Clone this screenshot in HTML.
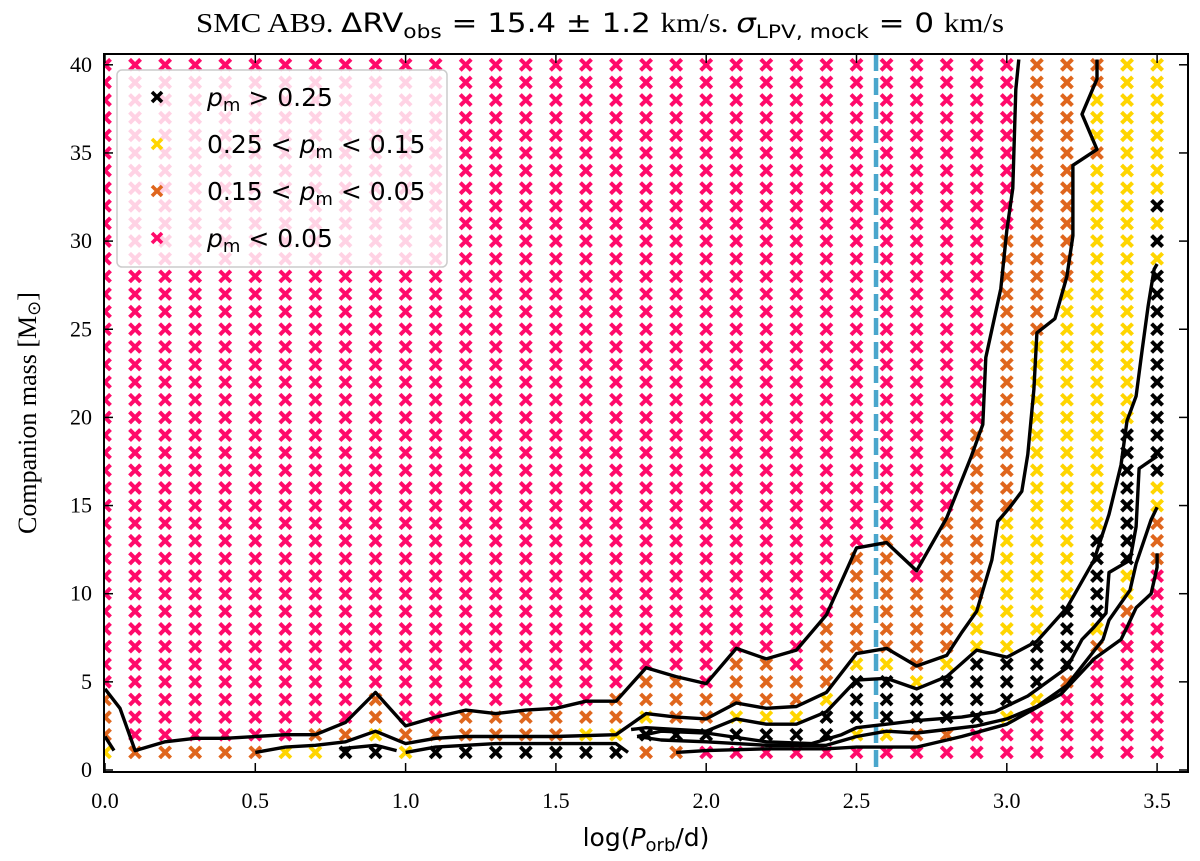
<!DOCTYPE html>
<html><head><meta charset="utf-8"><style>
html,body{margin:0;padding:0;background:#fff;}
svg{display:block;}
</style></head><body>
<svg id="chart" width="1200" height="861" viewBox="0 0 1200 861" xmlns="http://www.w3.org/2000/svg">
<defs><clipPath id="plotclip"><rect x="104" y="54" width="1084" height="718"/></clipPath></defs>
<text x="600" y="32" text-anchor="middle" font-size="27" textLength="808" lengthAdjust="spacingAndGlyphs" font-family="Liberation Serif, serif">SMC AB9. <tspan font-family="DejaVu Sans, sans-serif">ΔRV</tspan><tspan font-family="DejaVu Sans, sans-serif" font-size="19" dy="6">obs</tspan><tspan font-family="DejaVu Sans, sans-serif" dy="-6"> = 15.4 ± 1.2 </tspan>km/s. <tspan font-family="DejaVu Sans, sans-serif" font-style="italic">σ</tspan><tspan font-family="DejaVu Sans, sans-serif" font-size="19" dy="6">LPV, mock</tspan><tspan font-family="DejaVu Sans, sans-serif" dy="-6"> = 0 </tspan>km/s</text>
<g id="markers" clip-path="url(#plotclip)"></g>
<g id="lines" clip-path="url(#plotclip)"></g>
<g id="axes"></g>
<g id="legend"></g>
</svg>
<script>
const xCols = [0.0,0.1,0.2,0.3,0.4,0.5,0.6,0.7,0.8,0.9,1.0,1.1,1.2,1.3,1.4,1.5,1.6,1.7,1.8,1.9,2.0,2.1,2.2,2.3,2.4,2.5,2.6,2.7,2.8,2.9,3.0,3.1,3.2,3.3,3.4,3.5];
const massRows = [1,2,3,4,5,6,7,8,9,10,11,12,13,14,15,16,17,18,19,20,21,22,23,24,25,26,27,28,29,30,31,32,33,34,35,36,37,38,39,40];
// per column category codes, row 1 first: k=pm>0.25, y=0.25..0.15, o=0.15..0.05, p=<0.05
const colCats = [
"yooopppppppppppppppppppppppppppppppppppp",
"oppppppppppppppppppppppppppppppppppppppp",
"oppppppppppppppppppppppppppppppppppppppp",
"oppppppppppppppppppppppppppppppppppppppp",
"oppppppppppppppppppppppppppppppppppppppp",
"oppppppppppppppppppppppppppppppppppppppp",
"yppppppppppppppppppppppppppppppppppppppp",
"yopppppppppppppppppppppppppppppppppppppp",
"kopppppppppppppppppppppppppppppppppppppp",
"kyoopppppppppppppppppppppppppppppppppppp",
"yopppppppppppppppppppppppppppppppppppppp",
"kopppppppppppppppppppppppppppppppppppppp",
"kooppppppppppppppppppppppppppppppppppppp",
"kooppppppppppppppppppppppppppppppppppppp",
"kooppppppppppppppppppppppppppppppppppppp",
"kooppppppppppppppppppppppppppppppppppppp",
"kyoppppppppppppppppppppppppppppppppppppp",
"kyoopppppppppppppppppppppppppppppppppppp",
"okyooppppppppppppppppppppppppppppppppppp",
"okoooppppppppppppppppppppppppppppppppppp",
"pkoopppppppppppppppppppppppppppppppppppp",
"pkyooopppppppppppppppppppppppppppppppppp",
"pkyooopppppppppppppppppppppppppppppppppp",
"pkyoopppppppppppppppppppppppppppppppppppp".slice(0,40),
"pkkyoooopppppppppppppppppppppppppppppppp",
"pykkkyoooooopppppppppppppppppppppppppppp",
"pykkkyooooooopppppppppppppppppppppppppppp".slice(0,40),
"pokkyoooooppppppppppppppppppppppppppppppp".slice(0,40),
"pokkkyooooooooppppppppppppppppppppppppppp".slice(0,40),
"ppkkkkyyyoooooooooopppppppppppppppppppppp".slice(0,40),
"ppykkkyyyyyyyyoooooooooooooooopppppppppp",
"pppykkkyyyyyyyyyyyyyyyyyoooooooooooooooo",
"ppppokkkkyyyyyyyyyyyyyyyyyyooooooooooooo",
"ppppppoykkkkkyyyyyyyyyyyyyyyyyyyyyoyyyoo",
"ppppppppoyykkkkkkkkyyyyyyyyyyyyyyyyyyyyy",
"pppppppppppoooyykkkkkkkkkkkkykykyyyyyyyy"
];
const catColors = {k:"#000000", y:"#ffd500", o:"#df661d", p:"#ff0a6a"};
const legendLabels = ["pm > 0.25","0.25 < pm < 0.15","0.15 < pm < 0.05","pm < 0.05"];
const legendCats = ["k","y","o","p"];
const xTicks = [0.0,0.5,1.0,1.5,2.0,2.5,3.0,3.5];
const xTickLabels = ["0.0","0.5","1.0","1.5","2.0","2.5","3.0","3.5"];
const yTicks = [0,5,10,15,20,25,30,35,40];
const yTickLabels = ["0","5","10","15","20","25","30","35","40"];
const obsPeriod = [2.565];
const contourL1 = [[0,4.6],[0.05,3.5],[0.1,1.1],[0.2,1.6],[0.3,1.8],[0.4,1.8],[0.5,1.9],[0.6,2.0],[0.7,2.0],[0.8,2.7],[0.9,4.4],[1.0,2.5],[1.1,3.0],[1.2,3.4],[1.3,3.2],[1.4,3.4],[1.5,3.5],[1.6,3.9],[1.7,3.9],[1.8,5.8],[1.9,5.3],[2.0,4.9],[2.1,6.9],[2.2,6.3],[2.3,6.8],[2.4,8.8],[2.5,12.6],[2.6,12.9],[2.7,11.3],[2.8,14.3],[2.88,17.7],[2.92,19.6],[2.93,23.4],[2.98,27.3],[3.0,30.6],[3.02,33],[3.03,38.6],[3.04,40.3]];
const contourA = [[0.5,1.0],[0.6,1.3],[0.7,1.4],[0.8,1.6],[0.9,2.2],[1.0,1.5],[1.1,1.8],[1.2,1.9],[1.5,1.9],[1.7,2.0],[1.8,3.2],[1.9,3.0],[2.0,2.9],[2.1,3.8],[2.2,3.5],[2.3,3.6],[2.4,4.4],[2.5,6.6],[2.6,6.9],[2.7,5.9],[2.8,6.5],[2.85,7.8],[2.9,9],[2.95,11.9],[2.97,14.1],[3.01,14.9],[3.05,15.8],[3.07,17.9],[3.09,21.6],[3.1,24.8],[3.16,25.6],[3.2,28],[3.22,30.3],[3.22,34.3],[3.3,35.2],[3.25,37.2],[3.3,39.2],[3.3,40.3]];
const contourB = [[1.75,2.3],[1.8,2.4],[1.9,2.3],[2.0,2.2],[2.1,2.9],[2.2,2.6],[2.3,2.6],[2.4,3.3],[2.5,5.1],[2.6,5.2],[2.7,4.6],[2.8,5.3],[2.9,6.8],[3.0,6.4],[3.1,7.3],[3.2,9.2],[3.29,11.9],[3.34,14.5],[3.38,17.3],[3.4,19.8],[3.43,21.2],[3.45,23.8],[3.47,26.3],[3.49,28.4],[3.5,28.7]];
const contourC = [[1.77,1.9],[1.85,2.2],[2.0,2.1],[2.2,1.6],[2.35,1.5],[2.45,2.0],[2.5,2.4],[2.6,2.6],[2.7,2.8],[2.85,3.0],[2.96,3.3],[3.07,4.2],[3.2,5.8],[3.25,7.4],[3.29,8.1],[3.33,8.9],[3.34,11.2],[3.41,11.9],[3.43,13.8],[3.44,17.1],[3.5,17.8]];
const contourD = [[1.77,1.9],[1.85,1.7],[2.0,1.6],[2.2,1.4],[2.4,1.4],[2.5,1.9],[2.6,2.2],[2.7,2.1],[2.8,2.3],[2.9,2.5],[3.0,2.9],[3.1,3.6],[3.2,4.8],[3.32,7.4],[3.34,8.5],[3.41,10.2],[3.43,11.7],[3.48,14.2],[3.5,14.9]];
const contourE = [[1.9,1.0],[2.0,1.1],[2.2,1.2],[2.4,1.2],[2.5,1.3],[2.6,1.3],[2.7,1.3],[2.85,1.9],[3.0,2.6],[3.18,4.3],[3.29,6.3],[3.38,7.4],[3.4,8.1],[3.43,9.2],[3.48,10],[3.5,11.5],[3.5,12.3]];
const contourS1 = [[0.0,1.9],[0.03,1.1]];
const contourS2 = [[0.78,1.2],[0.9,1.4],[0.97,1.1]];
const contourS3 = [[1.0,1.0],[1.1,1.3],[1.3,1.5],[1.5,1.5],[1.7,1.5],[1.74,1.0]];

const NS="http://www.w3.org/2000/svg";
const X0=105, XU=300.6, Y0=770, YU=17.63;
function sx(v){return X0+v*XU;}
function sy(v){return Y0-v*YU;}
function mk(tag,attrs,parent){const e=document.createElementNS(NS,tag);for(const k in attrs)e.setAttribute(k,attrs[k]);parent.appendChild(e);return e;}
function cross(parent,cx,cy,col,h,w){
  const g=mk('g',{},parent);
  mk('line',{x1:cx-h,y1:cy-h,x2:cx+h,y2:cy+h,stroke:col,'stroke-width':w},g);
  mk('line',{x1:cx-h,y1:cy+h,x2:cx+h,y2:cy-h,stroke:col,'stroke-width':w},g);
  return g;
}
const gm=document.getElementById('markers');
xCols.forEach((xv,i)=>{
  massRows.forEach((mv,j)=>{
    const c=colCats[i][j]||'p';
    const g=cross(gm,sx(xv),sy(mv),catColors[c],5.5,4);
    
    
  });
});
const gl=document.getElementById('lines');
const dl=mk('line',{x1:sx(obsPeriod[0]),x2:sx(obsPeriod[0]),y1:54,y2:772,stroke:'#4aa6cc','stroke-width':4.5,'stroke-dasharray':'17,7'},gl);


[contourL1,contourA,contourB,contourC,contourD,contourE,contourS1,contourS2,contourS3].forEach((pts,i)=>{
  const p=mk('polyline',{points:pts.map(q=>sx(q[0]).toFixed(1)+','+sy(q[1]).toFixed(1)).join(' '),fill:'none',stroke:'#000','stroke-width':3.4,'stroke-linejoin':'round'},gl);
  
  
});
const ga=document.getElementById('axes');
const fr=mk('rect',{x:104,y:54,width:1084,height:718,fill:'none',stroke:'#000','stroke-width':2},ga);


xTicks.forEach((v,i)=>{
  const x=sx(v);
  mk('line',{x1:x,x2:x,y1:772,y2:763,stroke:'#000','stroke-width':1.5},ga);
  mk('line',{x1:x,x2:x,y1:54,y2:63,stroke:'#000','stroke-width':1.5},ga);
  const t=mk('text',{x:x,y:808,'text-anchor':'middle','font-size':22,'font-family':'Liberation Serif, serif'},ga);
  t.textContent=xTickLabels[i];
  
  
});
yTicks.forEach((v,i)=>{
  const y=sy(v);
  mk('line',{x1:104,x2:113,y1:y,y2:y,stroke:'#000','stroke-width':1.5},ga);
  mk('line',{x1:1188,x2:1179,y1:y,y2:y,stroke:'#000','stroke-width':1.5},ga);
  const t=mk('text',{x:92,y:y+7,'text-anchor':'end','font-size':22,'font-family':'Liberation Serif, serif'},ga);
  t.textContent=yTickLabels[i];
  
  
});
const xt=mk('text',{x:646,y:846,'text-anchor':'middle','font-size':25,'font-family':'DejaVu Sans, Liberation Sans, sans-serif'},ga);
xt.innerHTML='log(<tspan font-style="italic">P</tspan><tspan font-size="18" dy="5">orb</tspan><tspan dy="-5">/d)</tspan>';


const yt=mk('text',{x:0,y:0,'text-anchor':'middle','font-size':26,'font-family':'Liberation Serif, serif',transform:'translate(36,413) rotate(-90)'},ga);
yt.innerHTML='Companion mass [M<tspan font-size="18" dy="4">\u2299</tspan><tspan dy="-4">]</tspan>';


const lg=document.getElementById('legend');
const lb=mk('rect',{x:117,y:70,width:330,height:197,rx:5,fill:'#fff','fill-opacity':0.82,stroke:'#cccccc','stroke-width':1.5},lg);


legendLabels.forEach((lab,i)=>{
  const y=97+i*47;
  const e=mk('g',{},lg);
  
  
  cross(e,157,y,catColors[legendCats[i]],5,3.6);
  const t=mk('text',{x:207,y:y+9,'font-size':25,'font-family':'DejaVu Sans, Liberation Sans, sans-serif'},e);
  const parts=lab.split('pm');
  t.innerHTML=parts[0]+'<tspan font-style="italic">p</tspan><tspan font-size="18" dy="5">m</tspan><tspan dy="-5">'+parts[1]+'</tspan>';
});
</script>
</body></html>
